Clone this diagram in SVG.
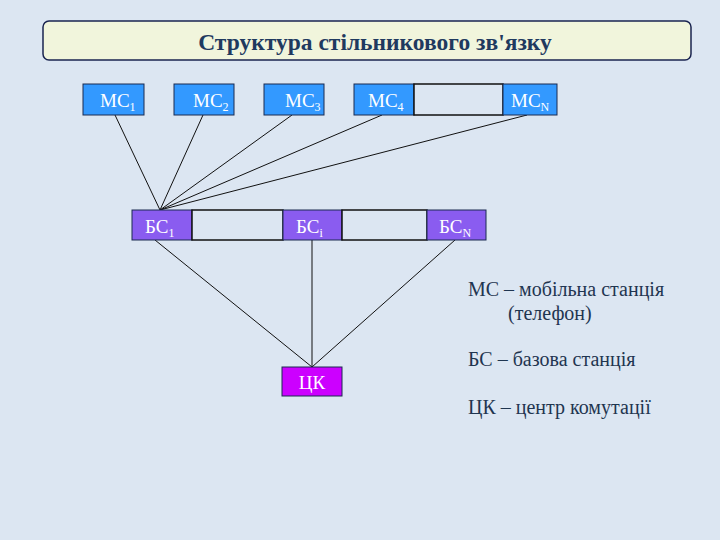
<svg xmlns="http://www.w3.org/2000/svg" width="720" height="540" viewBox="0 0 720 540">
<style>
.t{font-family:"Liberation Serif","Times New Roman",serif}
.ms rect{fill:#3399ff;stroke:#1a2a50;stroke-width:1}
.bs rect{fill:#8a5cf0;stroke:#1a2a50;stroke-width:1}
.lbl{font-family:"Liberation Serif",serif;font-size:19px;fill:#ffffff}
.sub{font-size:12px}
.empty{fill:#dce6f2;stroke:#111;stroke-width:1.5}
.conn line{stroke:#111;stroke-width:1}
.leg{font-family:"Liberation Serif",serif;font-size:20px;fill:#1f3550}
</style>
<rect width="720" height="540" fill="#dce6f2"/>
<g id="title">
<rect x="43" y="21" width="648" height="39" rx="6" fill="#f1f5dc" stroke="#1a2450" stroke-width="1.5"/>
<text x="375" y="50" text-anchor="middle" class="t" font-size="23.5" font-weight="bold" fill="#1f3a5f">Структура стільникового зв'язку</text>
</g>
<g class="conn" id="connectors">
<line x1="115" y1="115" x2="160" y2="210"/>
<line x1="203" y1="115" x2="160" y2="210"/>
<line x1="292" y1="115" x2="160" y2="210"/>
<line x1="382" y1="115" x2="160" y2="210"/>
<line x1="527" y1="115" x2="160" y2="210"/>
<line x1="155" y1="240" x2="312" y2="367"/>
<line x1="312" y1="240" x2="312" y2="367"/>
<line x1="455" y1="240" x2="312" y2="367"/>
</g>
<g id="ms1" class="ms"><rect x="83" y="84" width="61" height="31"/><text class="lbl" x="100" y="107">МС<tspan class="sub" dy="4">1</tspan></text></g>
<g id="ms2" class="ms"><rect x="174" y="84" width="60" height="31"/><text class="lbl" x="193" y="107">МС<tspan class="sub" dy="4">2</tspan></text></g>
<g id="ms3" class="ms"><rect x="264" y="84" width="60" height="31"/><text class="lbl" x="285" y="107">МС<tspan class="sub" dy="4">3</tspan></text></g>
<g id="ms4" class="ms"><rect x="354" y="84" width="60" height="31"/><text class="lbl" x="368" y="107">МС<tspan class="sub" dy="4">4</tspan></text></g>
<g id="ms-gap"><rect class="empty" x="414" y="84" width="89" height="31"/></g>
<g id="msN" class="ms"><rect x="503" y="84" width="54" height="31"/><text class="lbl" x="511" y="107">МС<tspan class="sub" dy="4">N</tspan></text></g>
<g id="bs1" class="bs"><rect x="132" y="210" width="60" height="30"/><text class="lbl" x="145" y="233" fill="#f0e8ff">БС<tspan class="sub" dy="4">1</tspan></text></g>
<g id="bs-gap1"><rect class="empty" x="192" y="210" width="91" height="30"/></g>
<g id="bsi" class="bs"><rect x="283" y="210" width="59" height="30"/><text class="lbl" x="296" y="233">БС<tspan class="sub" dy="4">i</tspan></text></g>
<g id="bs-gap2"><rect class="empty" x="342" y="210" width="85" height="30"/></g>
<g id="bsN" class="bs"><rect x="427" y="210" width="59" height="30"/><text class="lbl" x="439" y="233">БС<tspan class="sub" dy="4">N</tspan></text></g>
<g id="ck"><rect x="282" y="367" width="60" height="29" fill="#cc00ff" stroke="#1a2a50" stroke-width="1"/><text class="lbl" x="312" y="389" text-anchor="middle" fill="#ffe0ff">ЦК</text></g>
<g id="legend">
<text class="leg" x="468" y="296">МС – мобільна станція</text>
<text class="leg" x="508" y="320">(телефон)</text>
<text class="leg" x="468" y="366">БС – базова станція</text>
<text class="leg" x="468" y="414">ЦК – центр комутації</text>
</g>
</svg>
